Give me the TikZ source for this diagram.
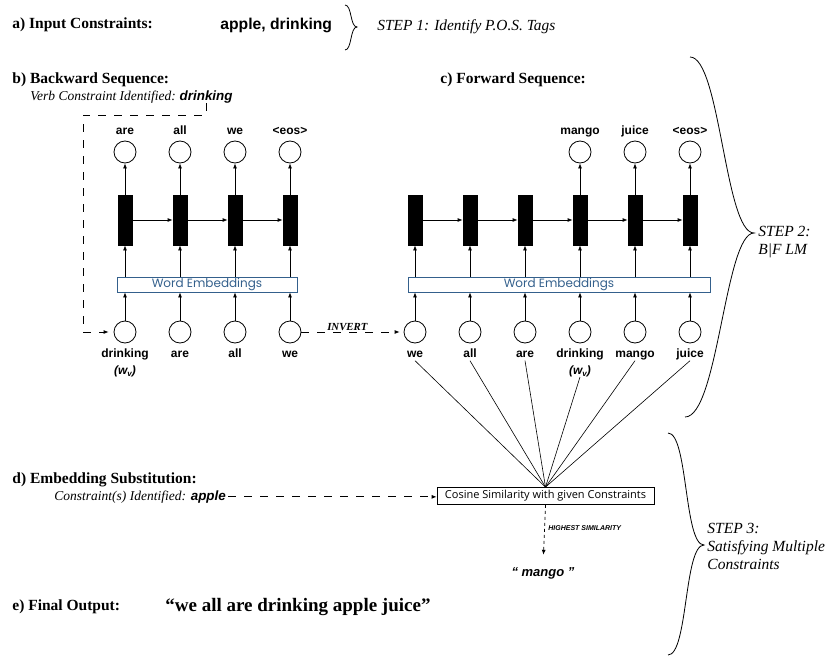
\documentclass[tikz,border=0pt]{standalone}
\usepackage{fontspec}
\setmainfont{Liberation Serif}
\setsansfont{Liberation Sans}
\newfontfamily\popfont{Poppins}
\newfontfamily\opfont{Open Sans}
\usepackage{tikz}
\usetikzlibrary{positioning}
\usetikzlibrary{arrows.meta}

\definecolor{embblue}{RGB}{52,96,140}

\begin{document}
\begin{tikzpicture}[x=1pt, y=-1pt, line width=.8pt,
    head/.style={anchor=west, inner sep=0pt, font=\fontsize{15.5}{17}\selectfont\bfseries},
    note/.style={inner sep=0pt, font=\fontsize{13.5}{16}\selectfont\itshape},
    keyw/.style={inner sep=0pt, font=\fontsize{13.4}{16}\selectfont\sffamily\bfseries\itshape},
    word/.style={inner sep=0pt, text height=9pt, text depth=2.5pt, font=\fontsize{12}{14}\selectfont\sffamily\bfseries},
    unit/.style={circle, draw, minimum size=22pt, inner sep=0pt},
    cell/.style={draw, fill=black, minimum width=14pt, minimum height=50pt, inner sep=0pt},
    embed/.style={draw=embblue, text=embblue, minimum height=15pt, inner sep=0pt, font=\fontsize{12}{14}\selectfont\popfont},
    arr/.style={-{Latex[length=5pt,width=4pt]}},
    dashline/.style={dash pattern=on 8pt off 8pt},
    stepnote/.style={anchor=north west, inner sep=0pt, align=left, font=\fontsize{15.5}{17.5}\selectfont\itshape}]
    \useasboundingbox (0,0) rectangle (826,658);

    \node[head] (inhead) at (12,25) {a) Input Constraints:};
    \node[anchor=west, inner sep=0pt, font=\fontsize{15.7}{18}\selectfont\sffamily\bfseries] (inwords) at (220,25) {apple, drinking};
    \draw (345,5) .. controls (352,5) and (350,27) .. (357,27) .. controls (350,27) and (352,50) .. (345,50);
    \node[anchor=west, inner sep=0pt, font=\fontsize{15.4}{18}\selectfont\itshape] (step1) at (377,27) {STEP 1: Identify P.O.S. Tags};

    \node[head] (bhead) at (12,80) {b) Backward Sequence:};
    \node[note, anchor=west] (verbtxt) at (30,97) {Verb Constraint Identified:};
    \node[keyw, base right=3pt of verbtxt] (verbw) {drinking};
    \node[head] (fhead) at (440,80) {c) Forward Sequence:};

    \foreach \w [count=\i from 0] in {drinking,are,all,we} {
        \node[unit] (bin\i) at (125+55*\i, 332) {};
        \node[word, below=5pt of bin\i] (bword\i) {\w};
        \node[cell] (bcell\i) at (125+55*\i, 220) {};
    }
    \foreach \w [count=\i from 0] in {are,all,we,<eos>} {
        \node[unit] (bout\i) at (125+55*\i, 152) {};
        \node[word, above=3.5pt of bout\i] (btop\i) {\w};
    }
    \node[word, font=\fontsize{12}{14}\selectfont\sffamily\bfseries\itshape, below=4pt of bword0] (bwv) {(w\raisebox{-.3ex}{\fontsize{8}{9}\selectfont v})};
    \node[embed, minimum width=180pt] (bemb) at (207,284.5) {Word Embeddings};

    \foreach \i in {0,...,3} {
        \draw[arr] (bin\i) -- (bin\i |- bemb.south);
        \draw[arr] (bin\i |- bemb.north) -- (bcell\i);
        \draw[arr] (bcell\i) -- (bout\i);
    }
    \foreach \i in {0,...,2} {
        \pgfmathtruncatemacro{\j}{\i+1}
        \draw[arr] (bcell\i) -- (bcell\j);
    }

    \coordinate (vbend) at (83,115);
    \draw[dashline, arr, shorten >=5pt] (verbw.south) |- (vbend) |- (bin0.west);

    \foreach \w [count=\i from 0] in {we,all,are,drinking,mango,juice} {
        \node[unit] (fin\i) at (415+55*\i, 332) {};
        \node[word, below=5pt of fin\i] (fword\i) {\w};
        \node[cell] (fcell\i) at (415+55*\i, 220) {};
    }
    \foreach \w [count=\i from 3] in {mango,juice,<eos>} {
        \node[unit] (fout\i) at (415+55*\i, 152) {};
        \node[word, above=3.5pt of fout\i] (ftop\i) {\w};
    }
    \node[word, font=\fontsize{12}{14}\selectfont\sffamily\bfseries\itshape, below=4pt of fword3] (fwv) {(w\raisebox{-.3ex}{\fontsize{8}{9}\selectfont v})};
    \node[embed, minimum width=302pt] (femb) at (559,284.5) {Word Embeddings};

    \foreach \i in {0,...,5} {
        \draw[arr] (fin\i) -- (fin\i |- femb.south);
        \draw[arr] (fin\i |- femb.north) -- (fcell\i);
    }
    \foreach \i in {3,...,5}
        \draw[arr] (fcell\i) -- (fout\i);
    \foreach \i in {0,...,4} {
        \pgfmathtruncatemacro{\j}{\i+1}
        \draw[arr] (fcell\i) -- (fcell\j);
    }

    \draw[dashline, arr, shorten >=4pt] (bin3) -- node[pos=.45, above=1pt, inner sep=0pt, font=\fontsize{10.8}{12}\selectfont\bfseries\itshape] (inv) {INVERT} (fin0);

    \draw (690,57) .. controls (720,57) and (725,233) .. (754,233) .. controls (725,233) and (718,417) .. (685,417);
    \node[stepnote] (step2) at (758,226) {STEP 2:\\B|F LM};

    \node[draw, minimum width=217pt, minimum height=17pt, inner sep=0pt, font=\fontsize{11}{12}\selectfont\opfont] (cos) at (545.5,496) {Cosine Similarity with given Constraints};
    \foreach \n in {fword0,fword1,fword2,fwv,fword4,fword5}
        \draw[line width=.6pt] (\n.south) -- (cos.north);

    \node[head] (dhead) at (12,480) {d) Embedding Substitution:};
    \node[note, anchor=west] (constxt) at (54,497) {Constraint(s) Identified:};
    \node[keyw, base right=4pt of constxt] (applew) {apple};
    \draw[dashline, arr, shorten <=2pt] (applew.east) -- (applew.east -| cos.west);

    \node[anchor=west, inner sep=0pt, font=\fontsize{7}{8}\selectfont\sffamily\bfseries\itshape] (hisim) at (548,528) {HIGHEST SIMILARITY};
    \node[keyw, font=\fontsize{13}{15}\selectfont\sffamily\bfseries\itshape] (mango) at (543,573) {“ mango ”};
    \draw[dash pattern=on 3pt off 3pt, arr, shorten >=12pt] (cos.south) -- (mango.north);

    \draw (668,433) .. controls (688,433) and (684,545) .. (704,545) .. controls (684,545) and (688,655) .. (668,655);
    \node[stepnote, font=\fontsize{15.5}{18}\selectfont\itshape] (step3) at (707,523) {STEP 3:\\Satisfying Multiple\\Constraints};

    \node[head] (ehead) at (12,607) {e) Final Output:};
    \node[anchor=west, inner sep=0pt, font=\fontsize{19}{22}\selectfont\bfseries] (final) at (165,607) {“we all are drinking apple juice”};
\end{tikzpicture}
\end{document}
